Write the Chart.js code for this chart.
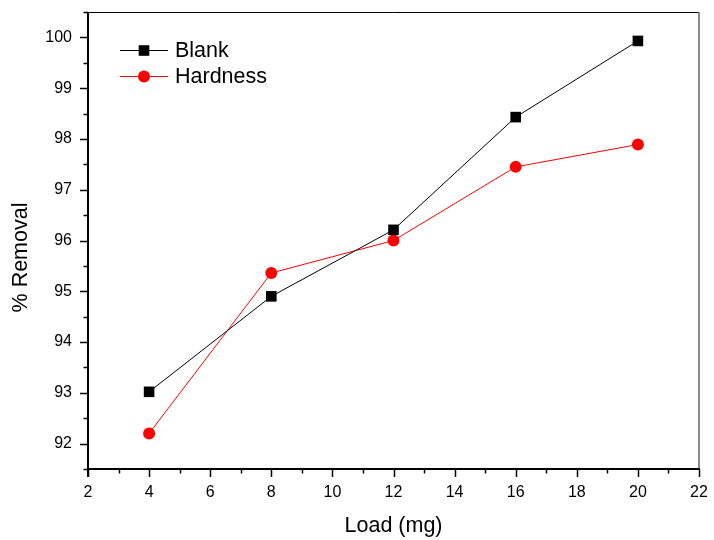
<!DOCTYPE html>
<html>
<head>
<meta charset="utf-8">
<script src="https://cdn.jsdelivr.net/npm/chart.js@4.4.0/dist/chart.umd.min.js"></script>
<style>
  html, body { margin: 0; padding: 0; background: #fff; }
  #wrap { width: 714px; height: 540px; }
</style>
</head>
<body>
<div id="wrap"><canvas id="chartLoad"></canvas></div>
<script>
// removal vs load ---------------------------------------------------------
const loads = [4, 8, 12, 16, 20];
const blank = [93.02, 94.9, 96.21, 98.43, 99.93];
const hardness = [92.2, 95.36, 96.0, 97.45, 97.89];
const xRange = [2, 22];
const yRange = [91.5, 100.5];
const yTitle = '% Removal';

const fontFamily = "'Liberation Sans', Arial, sans-serif";

function points(ys) {
    return loads.map((x, i) => ({ x: x, y: ys[i] }));
}

// origin style ticks: long ones where there is a label, short ones between
const axisTicks = {
    id: 'axisTicks',
    afterDraw(chart) {
        const ctx = chart.ctx;
        const area = chart.chartArea;
        const xs = chart.scales.x;
        const ys = chart.scales.y;
        ctx.save();
        ctx.strokeStyle = '#000';
        ctx.lineWidth = 1.5;
        xs.ticks.forEach(t => {
            const px = Math.round(xs.getPixelForValue(t.value)) + 0.5;
            const len = t.label !== '' ? 8 : 4.5;
            ctx.beginPath();
            ctx.moveTo(px, area.bottom);
            ctx.lineTo(px, area.bottom + len);
            ctx.stroke();
        });
        ys.ticks.forEach(t => {
            const py = Math.round(ys.getPixelForValue(t.value)) + 0.5;
            const len = t.label !== '' ? 8 : 4.5;
            ctx.beginPath();
            ctx.moveTo(area.left, py);
            ctx.lineTo(area.left - len, py);
            ctx.stroke();
        });

        // frame
        ctx.lineWidth = 1;
        ctx.beginPath();
        ctx.moveTo(area.left, area.top + 0.5);
        ctx.lineTo(area.right, area.top + 0.5);
        ctx.stroke();
        ctx.strokeStyle = '#666';
        ctx.lineWidth = 1.5;
        ctx.beginPath();
        ctx.moveTo(area.right, area.top);
        ctx.lineTo(area.right, area.bottom);
        ctx.stroke();
        ctx.strokeStyle = '#000';
        ctx.lineWidth = 2;
        ctx.beginPath();
        ctx.moveTo(area.left, area.top);
        ctx.lineTo(area.left, area.bottom + 8);
        ctx.moveTo(area.left - 1, area.bottom);
        ctx.lineTo(area.right + 1, area.bottom);
        ctx.stroke();

        // y axis title, sits a little below the middle of the axis
        ctx.fillStyle = '#000';
        ctx.font = '21.5px ' + fontFamily;
        ctx.textAlign = 'center';
        ctx.textBaseline = 'middle';
        ctx.translate(area.left - 67, (area.top + area.bottom) / 2 + 17);
        ctx.rotate(-Math.PI / 2);
        ctx.fillText(yTitle, 0, 0);
        ctx.restore();
    }
};

// legend with line + marker, top left inside the plot
const lineLegend = {
    id: 'lineLegend',
    afterDraw(chart) {
        const ctx = chart.ctx;
        const area = chart.chartArea;
        ctx.save();
        ctx.font = '21.5px ' + fontFamily;
        ctx.textBaseline = 'middle';
        chart.data.datasets.forEach((ds, i) => {
            const y = area.top + 38.5 + i * 26;
            const x0 = area.left + 32;
            ctx.strokeStyle = ds.borderColor;
            ctx.lineWidth = 1;
            ctx.beginPath();
            ctx.moveTo(x0, y);
            ctx.lineTo(x0 + 48, y);
            ctx.stroke();
            ctx.fillStyle = ds.pointBackgroundColor;
            Chart.helpers.drawPoint(ctx, {
                pointStyle: ds.pointStyle,
                radius: ds.pointRadius,
                rotation: 0,
                borderWidth: 0
            }, x0 + 24, y);
            ctx.fillStyle = '#000';
            ctx.fillText(ds.label, x0 + 55, y + 1);
        });
        ctx.restore();
    }
};

function chartLoad() {
    const config = {
        type: 'line',
        data: {
            datasets: [{
                label: 'Blank',
                data: points(blank),
                borderColor: '#000',
                borderWidth: 1,
                pointStyle: 'rect',
                pointRadius: 7.5,
                pointBackgroundColor: '#000',
                pointBorderWidth: 0
            }, {
                label: 'Hardness',
                data: points(hardness),
                borderColor: '#ff0000',
                borderWidth: 1,
                pointStyle: 'circle',
                pointRadius: 6,
                pointBackgroundColor: '#ff0000',
                pointBorderWidth: 0
            }]
        },
        options: {
            responsive: true,
            maintainAspectRatio: false,
            animation: false,
            layout: { padding: { top: 12, right: 15, left: 0, bottom: 0 } },
            plugins: {
                legend: { display: false },
                tooltip: { enabled: false }
            },
            scales: {
                x: {
                    type: 'linear',
                    min: xRange[0],
                    max: xRange[1],
                    grid: { display: false, drawTicks: false },
                    border: { display: false },
                    ticks: {
                        stepSize: 1,
                        autoSkip: false,
                        maxRotation: 0,
                        padding: 14,
                        color: '#000',
                        font: { family: fontFamily, size: 16 },
                        callback: v => (v % 2 === 0 ? String(v) : '')
                    },
                    title: {
                        display: true,
                        text: 'Load (mg)',
                        color: '#000',
                        font: { family: fontFamily, size: 21.5 },
                        padding: { top: 4, bottom: 1 }
                    },
                    afterFit: s => {
                        s.height = 71;
                        s.paddingLeft = 0;
                        s.paddingRight = 0;
                    }
                },
                y: {
                    min: yRange[0],
                    max: yRange[1],
                    grid: { display: false, drawTicks: false },
                    border: { display: false },
                    ticks: {
                        stepSize: 0.5,
                        autoSkip: false,
                        padding: 16,
                        color: '#000',
                        font: { family: fontFamily, size: 16 },
                        callback: v => (Math.abs(v - Math.round(v)) < 1e-6 ? String(Math.round(v)) : '')
                    },
                    afterFit: s => {
                        s.width = 88;
                        s.paddingTop = 0;
                        s.paddingBottom = 0;
                    }
                }
            }
        },
        plugins: [axisTicks, lineLegend]
    };

    new Chart(document.getElementById('chartLoad'), config);
}

chartLoad();
</script>
</body>
</html>
